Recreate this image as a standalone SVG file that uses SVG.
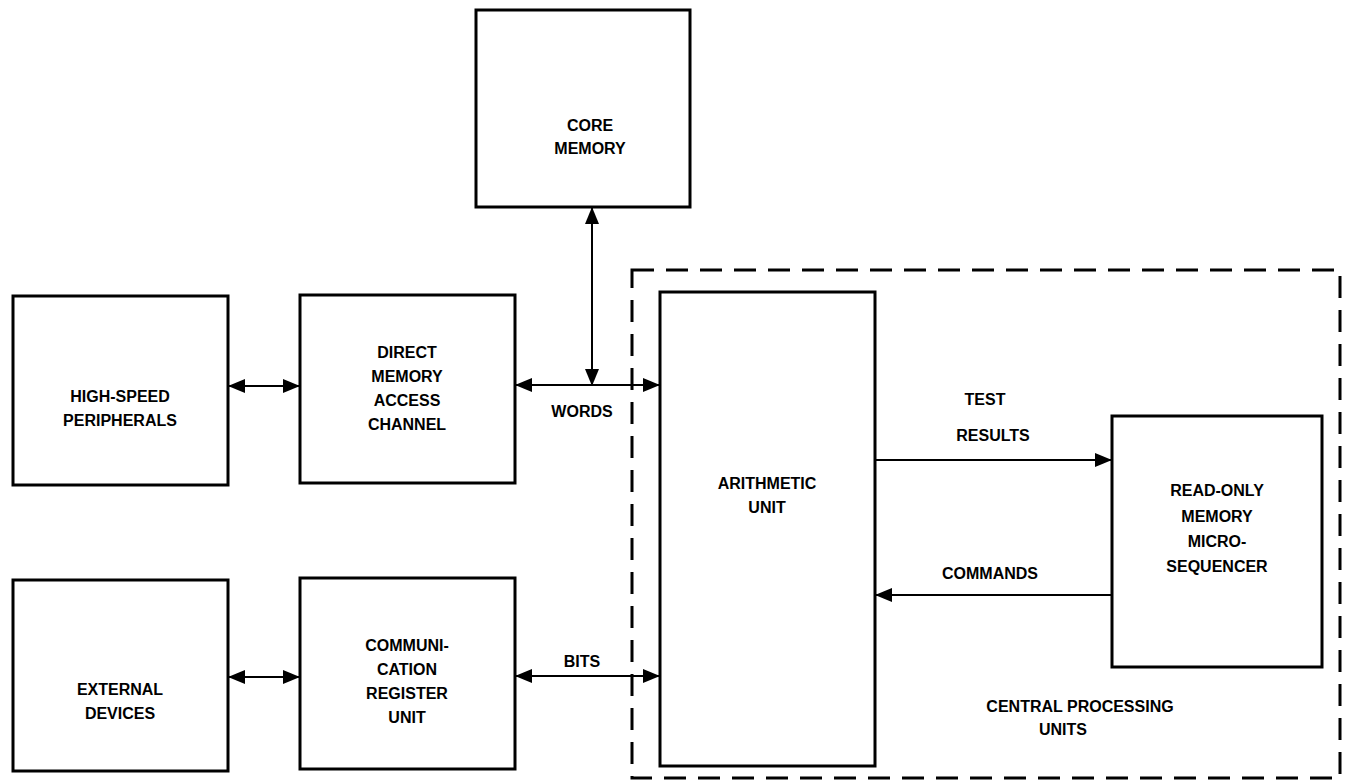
<svg xmlns="http://www.w3.org/2000/svg" width="1348" height="783" viewBox="0 0 1348 783">
<style>
  .box { fill: #fff; stroke: #000; stroke-width: 3; }
  .dash { fill: none; stroke: #000; stroke-width: 3; stroke-dasharray: 22 12; }
  .lbl { font-family: "Liberation Sans", Arial, sans-serif; font-weight: bold; font-size: 16px; fill: #000; text-anchor: middle; dominant-baseline: central; }
  .con { stroke: #000; stroke-width: 2; fill: none; }
  .bi { marker-start: url(#ah); marker-end: url(#ah); }
  .uni { marker-end: url(#ah); }
</style>
<defs>
  <marker id="ah" markerUnits="userSpaceOnUse" markerWidth="17" markerHeight="14" refX="16" refY="7" orient="auto-start-reverse">
    <path d="M0,0 L17,7 L0,14 z" fill="#000"/>
  </marker>
</defs>
<rect width="1348" height="783" fill="#fff"/>

<g id="cpu-boundary">
  <rect class="dash" x="632" y="270" width="708" height="508"/>
  <text class="lbl" x="1080" y="706">CENTRAL PROCESSING</text>
  <text class="lbl" x="1063" y="729">UNITS</text>
</g>

<g id="core-memory">
  <rect class="box" x="476" y="10" width="214" height="197"/>
  <text class="lbl" x="590" y="125">CORE</text>
  <text class="lbl" x="590" y="148">MEMORY</text>
</g>

<g id="high-speed-peripherals">
  <rect class="box" x="13" y="296" width="215" height="189"/>
  <text class="lbl" x="120" y="396">HIGH-SPEED</text>
  <text class="lbl" x="120" y="420">PERIPHERALS</text>
</g>

<g id="dma-channel">
  <rect class="box" x="300" y="295" width="215" height="188"/>
  <text class="lbl" x="407" y="352">DIRECT</text>
  <text class="lbl" x="407" y="376">MEMORY</text>
  <text class="lbl" x="407" y="400">ACCESS</text>
  <text class="lbl" x="407" y="424">CHANNEL</text>
</g>

<g id="external-devices">
  <rect class="box" x="13" y="580" width="215" height="191"/>
  <text class="lbl" x="120" y="689">EXTERNAL</text>
  <text class="lbl" x="120" y="713">DEVICES</text>
</g>

<g id="communication-register-unit">
  <rect class="box" x="300" y="578" width="215" height="191"/>
  <text class="lbl" x="407" y="645">COMMUNI-</text>
  <text class="lbl" x="407" y="669">CATION</text>
  <text class="lbl" x="407" y="693">REGISTER</text>
  <text class="lbl" x="407" y="717">UNIT</text>
</g>

<g id="arithmetic-unit">
  <rect class="box" x="660" y="292" width="215" height="474"/>
  <text class="lbl" x="767" y="483">ARITHMETIC</text>
  <text class="lbl" x="767" y="507">UNIT</text>
</g>

<g id="rom-microsequencer">
  <rect class="box" x="1112" y="416" width="210" height="251"/>
  <text class="lbl" x="1217" y="490">READ-ONLY</text>
  <text class="lbl" x="1217" y="516">MEMORY</text>
  <text class="lbl" x="1217" y="541">MICRO-</text>
  <text class="lbl" x="1217" y="566">SEQUENCER</text>
</g>

<g id="connectors">
  <line class="con bi" x1="229" y1="386" x2="299" y2="386"/>
  <line class="con bi" x1="229" y1="677" x2="299" y2="677"/>
  <line class="con bi" x1="516" y1="385" x2="659" y2="385"/>
  <line class="con bi" x1="592" y1="208" x2="592" y2="385"/>
  <line class="con bi" x1="516" y1="676" x2="659" y2="676"/>
  <line class="con uni" x1="876" y1="460" x2="1111" y2="460"/>
  <line class="con uni" x1="1111" y1="595" x2="876" y2="595"/>
  <text class="lbl" x="582" y="411">WORDS</text>
  <text class="lbl" x="582" y="661">BITS</text>
  <text class="lbl" x="985" y="399">TEST</text>
  <text class="lbl" x="993" y="435">RESULTS</text>
  <text class="lbl" x="990" y="573">COMMANDS</text>
</g>
</svg>
